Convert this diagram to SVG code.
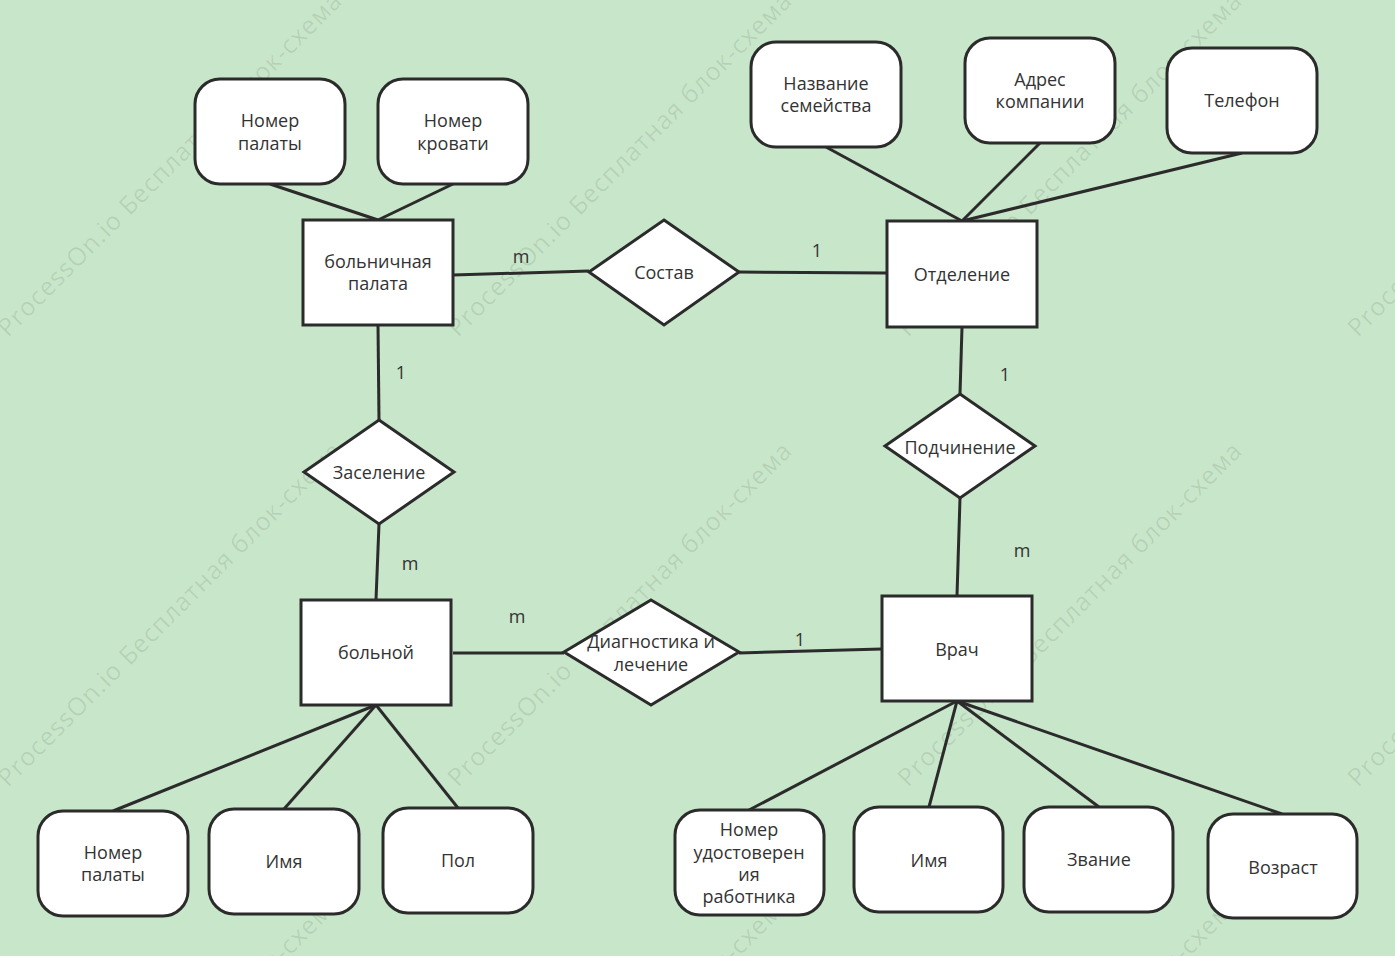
<svg xmlns="http://www.w3.org/2000/svg" width="1395" height="956" viewBox="0 0 1395 956">
<style>
.bg{fill:#c8e6c9}
.wm{font-family:"Open Sans","Noto Sans",sans-serif;font-size:25px;fill:#000;fill-opacity:0.09}
.ent{fill:#fff;stroke:#2b2b2b;stroke-width:3}
.att{fill:#fff;stroke:#2b2b2b;stroke-width:3}
.rel{fill:#fff;stroke:#2b2b2b;stroke-width:3;stroke-linejoin:miter}
.t{font-family:"Open Sans","Noto Sans","DejaVu Sans",sans-serif;font-size:18px;fill:#333;text-anchor:middle;dominant-baseline:central}
.lbl{font-family:"Open Sans","Noto Sans","DejaVu Sans",sans-serif;font-size:18px;fill:#333;text-anchor:middle;dominant-baseline:central}
.c line{stroke:#2b2b2b;stroke-width:3}
</style>
<rect class="bg" x="0" y="0" width="1395" height="956"/>
<g id="watermark">
<text class="wm" textLength="474" transform="translate(8,338) rotate(-45)">ProcessOn.io Бесплатная блок-схема</text>
<text class="wm" textLength="474" transform="translate(458,338) rotate(-45)">ProcessOn.io Бесплатная блок-схема</text>
<text class="wm" textLength="474" transform="translate(908,338) rotate(-45)">ProcessOn.io Бесплатная блок-схема</text>
<text class="wm" textLength="474" transform="translate(1358,338) rotate(-45)">ProcessOn.io Бесплатная блок-схема</text>
<text class="wm" textLength="474" transform="translate(8,788) rotate(-45)">ProcessOn.io Бесплатная блок-схема</text>
<text class="wm" textLength="474" transform="translate(458,788) rotate(-45)">ProcessOn.io Бесплатная блок-схема</text>
<text class="wm" textLength="474" transform="translate(908,788) rotate(-45)">ProcessOn.io Бесплатная блок-схема</text>
<text class="wm" textLength="474" transform="translate(1358,788) rotate(-45)">ProcessOn.io Бесплатная блок-схема</text>
<text class="wm" textLength="474" transform="translate(8,1238) rotate(-45)">ProcessOn.io Бесплатная блок-схема</text>
<text class="wm" textLength="474" transform="translate(458,1238) rotate(-45)">ProcessOn.io Бесплатная блок-схема</text>
<text class="wm" textLength="474" transform="translate(908,1238) rotate(-45)">ProcessOn.io Бесплатная блок-схема</text>
</g>
<g id="connectors" class="c">
<line x1="270" y1="184" x2="378" y2="220"/>
<line x1="453" y1="184" x2="378" y2="220"/>
<line x1="453" y1="275" x2="589" y2="271"/>
<line x1="739" y1="272" x2="887" y2="273"/>
<line x1="826" y1="147" x2="962" y2="221"/>
<line x1="1040" y1="143" x2="962" y2="221"/>
<line x1="1242" y1="153" x2="962" y2="221"/>
<line x1="962" y1="327" x2="960" y2="394"/>
<line x1="960" y1="498" x2="957" y2="596"/>
<line x1="882" y1="649" x2="739" y2="653"/>
<line x1="453" y1="653" x2="564" y2="653"/>
<line x1="378" y1="325" x2="379" y2="420"/>
<line x1="379" y1="524" x2="376" y2="600"/>
<line x1="376" y1="705" x2="113" y2="811"/>
<line x1="376" y1="705" x2="284" y2="809"/>
<line x1="376" y1="705" x2="458" y2="808"/>
<line x1="957" y1="701" x2="749" y2="810"/>
<line x1="957" y1="701" x2="929" y2="807"/>
<line x1="957" y1="701" x2="1099" y2="807"/>
<line x1="957" y1="701" x2="1282" y2="814"/>
</g>
<g id="labels">
<text class="lbl" x="521" y="256">m</text>
<text class="lbl" x="817" y="250">1</text>
<text class="lbl" x="1005" y="374">1</text>
<text class="lbl" x="1022" y="550">m</text>
<text class="lbl" x="800" y="639">1</text>
<text class="lbl" x="517" y="616">m</text>
<text class="lbl" x="401" y="372">1</text>
<text class="lbl" x="410" y="563">m</text>
</g>
<g id="n-palata">
<rect class="ent" x="303" y="220" width="150" height="105"/>
<text class="t" x="378" y="261">больничная</text>
<text class="t" x="378" y="283">палата</text>
</g>
<g id="a-nomer-palaty-1">
<rect class="att" x="195" y="79" width="150" height="105" rx="25"/>
<text class="t" x="270" y="120">Номер</text>
<text class="t" x="270" y="143">палаты</text>
</g>
<g id="a-nomer-krovati">
<rect class="att" x="378" y="79" width="150" height="105" rx="25"/>
<text class="t" x="453" y="120">Номер</text>
<text class="t" x="453" y="143">кровати</text>
</g>
<g id="r-sostav">
<polygon class="rel" points="664,220 739,272 664,325 589,272"/>
<text class="t" x="664" y="272">Состав</text>
</g>
<g id="n-otdelenie">
<rect class="ent" x="887" y="221" width="150" height="106"/>
<text class="t" x="962" y="274">Отделение</text>
</g>
<g id="a-nazvanie">
<rect class="att" x="751" y="42" width="150" height="105" rx="25"/>
<text class="t" x="826" y="83">Название</text>
<text class="t" x="826" y="105">семейства</text>
</g>
<g id="a-adres">
<rect class="att" x="965" y="38" width="150" height="105" rx="25"/>
<text class="t" x="1040" y="79">Адрес</text>
<text class="t" x="1040" y="101">компании</text>
</g>
<g id="a-telefon">
<rect class="att" x="1167" y="48" width="150" height="105" rx="25"/>
<text class="t" x="1242" y="100">Телефон</text>
</g>
<g id="r-podchinenie">
<polygon class="rel" points="960,394 1035,446 960,498 885,446"/>
<text class="t" x="960" y="447">Подчинение</text>
</g>
<g id="n-vrach">
<rect class="ent" x="882" y="596" width="150" height="105"/>
<text class="t" x="957" y="649">Врач</text>
</g>
<g id="r-diagnostika">
<polygon class="rel" points="651,600 739,652 651,705 564,652"/>
<text class="t" x="651" y="641">Диагностика и</text>
<text class="t" x="651" y="664">лечение</text>
</g>
<g id="n-bolnoy">
<rect class="ent" x="301" y="600" width="150" height="105"/>
<text class="t" x="376" y="652">больной</text>
</g>
<g id="r-zaselenie">
<polygon class="rel" points="379,420 454,472 379,524 304,472"/>
<text class="t" x="379" y="472">Заселение</text>
</g>
<g id="a-nomer-palaty-2">
<rect class="att" x="38" y="811" width="150" height="105" rx="25"/>
<text class="t" x="113" y="852">Номер</text>
<text class="t" x="113" y="874">палаты</text>
</g>
<g id="a-imya-1">
<rect class="att" x="209" y="809" width="150" height="105" rx="25"/>
<text class="t" x="284" y="861">Имя</text>
</g>
<g id="a-pol">
<rect class="att" x="383" y="808" width="150" height="105" rx="25"/>
<text class="t" x="458" y="860">Пол</text>
</g>
<g id="a-nomer-udost">
<rect class="att" x="675" y="810" width="149" height="105" rx="25"/>
<text class="t" x="749" y="829">Номер</text>
<text class="t" x="749" y="852">удостоверен</text>
<text class="t" x="749" y="874">ия</text>
<text class="t" x="749" y="896">работника</text>
</g>
<g id="a-imya-2">
<rect class="att" x="854" y="807" width="149" height="105" rx="25"/>
<text class="t" x="929" y="860">Имя</text>
</g>
<g id="a-zvanie">
<rect class="att" x="1024" y="807" width="149" height="105" rx="25"/>
<text class="t" x="1099" y="859">Звание</text>
</g>
<g id="a-vozrast">
<rect class="att" x="1208" y="814" width="149" height="104" rx="25"/>
<text class="t" x="1283" y="867">Возраст</text>
</g>
</svg>
